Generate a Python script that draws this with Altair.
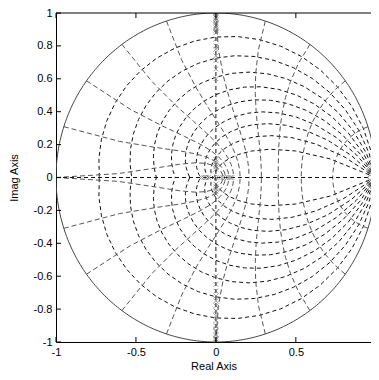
import numpy as np
import pandas as pd
import altair as alt

# ---- axis ticks ----
x_ticks = [-1, -0.5, 0, 0.5]
y_ticks = [-1, -0.8, -0.6, -0.4, -0.2, 0, 0.2, 0.4, 0.6, 0.8, 1]

# ---- zgrid parameters (MATLAB defaults) ----
zeta_list = [0.1, 0.2, 0.3, 0.4, 0.5, 0.6, 0.7, 0.8, 0.9]
wn_steps = [1, 2, 3, 4, 5, 6, 7, 8, 9, 10]  # multiples of pi/10

# ---- poles (x markers) ----
pole_x = ([0.0] * 16 + [0.0] * 14 + [0.0] * 10 +
          [-0.09, -0.075, -0.06, -0.045, 0.03, 0.045, 0.06, 0.075, 0.09, 0.1] +
          [0.955, 0.96, 0.955, 0.96])
pole_y = ([1.0, 0.985, 0.97, 0.955, 0.94, 0.925, 0.91, 0.895, 0.88, 0.84, 0.8, 0.78, 0.74, 0.71, 0.66, 0.6] +
          [-0.6, -0.65, -0.69, -0.72, -0.75, -0.78, -0.81, -0.84, -0.87, -0.9, -0.93, -0.96, -0.98, -1.0] +
          [0.11, 0.095, 0.08, 0.065, 0.05, -0.04, -0.055, -0.07, -0.085, -0.1] +
          [0.0] * 10 +
          [0.06, 0.03, -0.03, -0.06])
# ---- zeros (o markers) ----
zero_x = [0.0, 0.0, 0.0, 0.0, 0.0, 0.0, 0.965]
zero_y = [0.99, 0.95, 0.9, -0.92, -0.97, 0.0, 0.0]

W, H = 315, 329
X_DOM = [-1, 0.97]
Y_DOM = [-1, 1]

# ---- build grid curves ----
rows = []
cid = 0
th = np.arange(0, 21) * np.pi / 20
for z in zeta_list:
    m = np.tan(np.arcsin(z))
    zz = np.exp(th * (-m + 1j))
    for sgn in (1, -1):
        for k, v in enumerate(zz):
            rows.append({"x": v.real, "y": sgn * v.imag, "c": cid, "o": k, "kind": "zeta"})
        cid += 1
phi = np.pi / 2 + np.arange(0, 11) * np.pi / 20
for k10 in wn_steps:
    wn = k10 * np.pi / 10
    zz = np.exp(wn * np.exp(1j * phi))
    for sgn in (1, -1):
        for k, v in enumerate(zz):
            rows.append({"x": v.real, "y": sgn * v.imag, "c": cid, "o": k, "kind": "wn"})
        cid += 1
grid = pd.DataFrame(rows)

circ_t = np.linspace(0, 2 * np.pi, 361)
circle = pd.DataFrame({"x": np.cos(circ_t), "y": np.sin(circ_t), "o": np.arange(361)})

xs = alt.Scale(domain=X_DOM, nice=False, zero=False)
ys = alt.Scale(domain=Y_DOM, nice=False, zero=False)

x_axis = alt.Axis(values=x_ticks, title="Real Axis", labelExpr="toString(datum.value)",
                  grid=False, tickSize=0, labelPadding=4, titlePadding=3,
                  labelOverlap=False, labelFlush=False)
y_axis = alt.Axis(values=y_ticks, title="Imag Axis", labelExpr="toString(datum.value)",
                  grid=False, tickSize=0, labelPadding=4, titlePadding=14,
                  labelOverlap=False, labelFlush=False)

def XE():
    return alt.X("x:Q", scale=xs, axis=x_axis)

def YE():
    return alt.Y("y:Q", scale=ys, axis=y_axis)

zeta_lines = alt.Chart(grid[grid.kind == "zeta"]).mark_line(
    strokeDash=[4, 3], color="#111", strokeWidth=1, clip=True
).encode(x=XE(), y=YE(), detail="c:N", order="o:Q")

wn_lines = alt.Chart(grid[grid.kind == "wn"]).mark_line(
    strokeDash=[5, 3], color="#555", strokeWidth=1, clip=True
).encode(x=XE(), y=YE(), detail="c:N", order="o:Q")

axes_df = pd.DataFrame({"x": [-1, 1, 0, 0], "y": [0, 0, -1, 1], "c": [0, 0, 1, 1], "o": [0, 1, 0, 1]})
axes_lines = alt.Chart(axes_df).mark_line(
    strokeDash=[4, 3], color="#111", strokeWidth=1, clip=True
).encode(x=XE(), y=YE(), detail="c:N", order="o:Q")

unit_circle = alt.Chart(circle).mark_line(color="#444", strokeWidth=1, clip=True).encode(
    x=XE(), y=YE(), order="o:Q")

poles = alt.Chart(pd.DataFrame({"x": pole_x, "y": pole_y})).mark_point(
    shape="M-1,-1L1,1M-1,1L1,-1", filled=False, color="#707070", strokeWidth=1, size=22, clip=True
).encode(x=XE(), y=YE())

zeros = alt.Chart(pd.DataFrame({"x": zero_x, "y": zero_y})).mark_point(
    shape="circle", filled=False, color="#707070", strokeWidth=1, size=18, clip=True
).encode(x=XE(), y=YE())

# inward tick marks
bt = alt.Chart(pd.DataFrame({"x": x_ticks})).mark_rule(color="black", strokeWidth=1).encode(
    x=XE(), y=alt.value(H), y2=alt.value(H - 5))
tt = alt.Chart(pd.DataFrame({"x": x_ticks})).mark_rule(color="black", strokeWidth=1).encode(
    x=XE(), y=alt.value(0), y2=alt.value(5))
lt = alt.Chart(pd.DataFrame({"y": y_ticks})).mark_rule(color="black", strokeWidth=1).encode(
    y=YE(), x=alt.value(0), x2=alt.value(5))
top_border = alt.Chart(pd.DataFrame({"y": [1]})).mark_rule(color="black", strokeWidth=1).encode(
    y=YE(), x=alt.value(0), x2=alt.value(W))

chart = alt.layer(
    zeta_lines, wn_lines, axes_lines, unit_circle, poles, zeros, bt, tt, lt, top_border
).properties(
    width=W, height=H,
    autosize=alt.AutoSizeParams(type="none"),
    padding={"left": 48, "top": 5, "right": 0, "bottom": 30},
).configure_view(stroke=None).configure_axis(
    labelFont="Liberation Sans", labelFontSize=11, labelColor="black",
    titleFont="Liberation Sans", titleFontSize=11, titleFontWeight="normal", titleColor="black",
    domainColor="black", domainWidth=1, labelOverlap=False,
)

chart.save("out.html", embed_options={"renderer": "svg", "actions": False})
